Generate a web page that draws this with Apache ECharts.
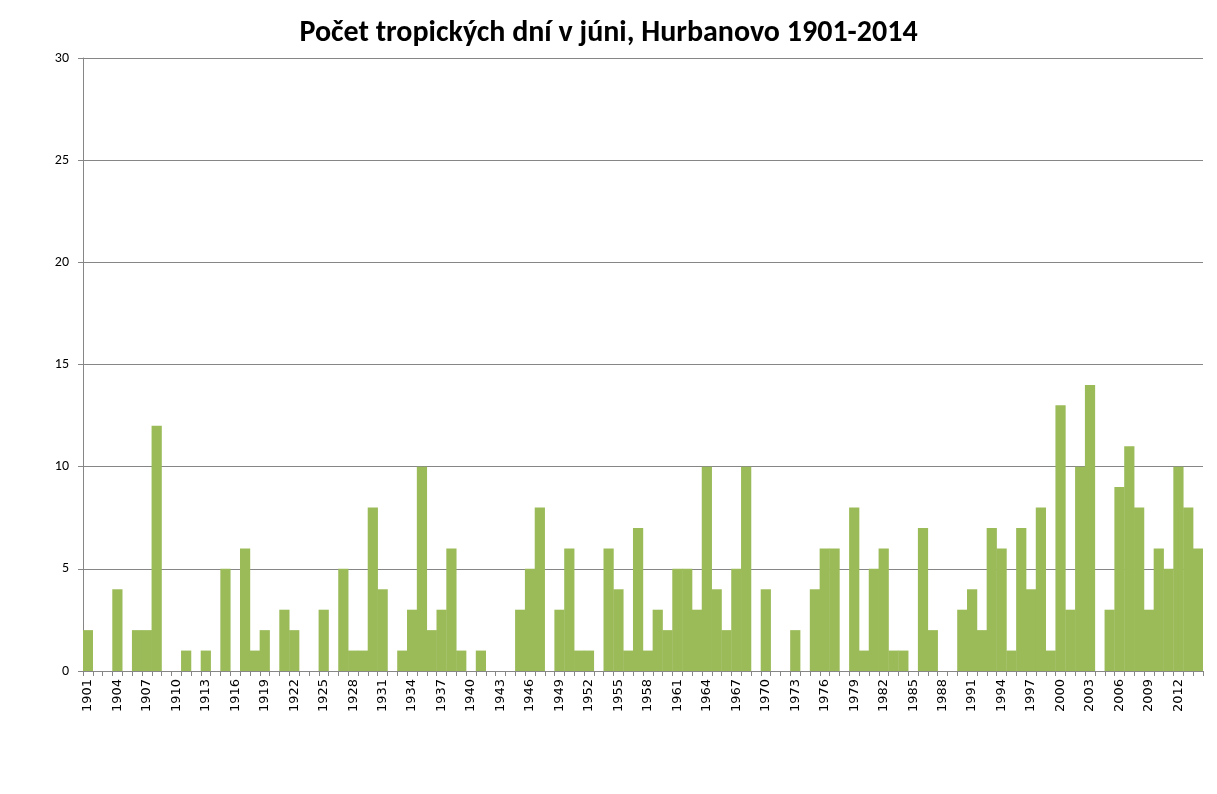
<!DOCTYPE html>
<html><head><meta charset="utf-8">
<script src="https://cdn.jsdelivr.net/npm/echarts@6/dist/echarts.min.js"></script>
<style>html,body{margin:0;padding:0;background:#fff}#c{width:1217px;height:794px}</style>
</head><body><div id="c"></div>
<script>
const title = 'Počet tropických dní v júni, Hurbanovo 1901-2014';
const years = [];
for (let y = 1901; y <= 2014; y++) years.push(String(y));
const values = [
  2,0,0,4,0,2,2,12,0,0,   // 1901-1910
  1,0,1,0,5,0,6,1,2,0,    // 1911-1920
  3,2,0,0,3,0,5,1,1,8,    // 1921-1930
  4,0,1,3,10,2,3,6,1,0,   // 1931-1940
  1,0,0,0,3,5,8,0,3,6,    // 1941-1950
  1,1,0,6,4,1,7,1,3,2,    // 1951-1960
  5,5,3,10,4,2,5,10,0,4,  // 1961-1970
  0,0,2,0,4,6,6,0,8,1,    // 1971-1980
  5,6,1,1,0,7,2,0,0,3,    // 1981-1990
  4,2,7,6,1,7,4,8,1,13,   // 1991-2000
  3,10,14,0,3,9,11,8,3,6, // 2001-2010
  5,10,8,6                // 2011-2014
];
const yTicks = [0, 5, 10, 15, 20, 25, 30];
const chart = echarts.init(document.getElementById('c'), null, {renderer: 'canvas'});
chart.setOption({
  animation: false,
  backgroundColor: '#fff',
  title: {
    text: title, left: 'center', top: 13,
    textStyle: {fontFamily: "Carlito, 'Liberation Sans Narrow', 'Open Sans', sans-serif", fontWeight: 'bold', fontSize: 30, color: '#000'}
  },
  grid: {left: 83, right: 14, top: 58, bottom: 123, containLabel: false},
  xAxis: {
    type: 'category', data: years, boundaryGap: true,
    axisLine: {lineStyle: {color: '#868686'}},
    axisTick: {show: true, alignWithLabel: false, interval: 0, length: 5, lineStyle: {color: '#868686'}},
    axisLabel: {interval: 2, rotate: 90, fontFamily: "'DejaVu Sans', sans-serif", fontSize: 13, color: '#000', margin: 8}
  },
  yAxis: {
    type: 'value', min: yTicks[0], max: yTicks[yTicks.length - 1], interval: 5,
    axisLine: {show: true, lineStyle: {color: '#868686'}},
    axisTick: {show: true, length: 5, lineStyle: {color: '#868686'}},
    axisLabel: {fontFamily: "Carlito, 'Liberation Sans', sans-serif", fontSize: 14, color: '#000', margin: 14},
    splitLine: {lineStyle: {color: '#868686'}}
  },
  series: [{
    type: 'bar', data: values, barWidth: '104%',
    itemStyle: {color: '#9BBB59'}
  }]
});
</script></body></html>
